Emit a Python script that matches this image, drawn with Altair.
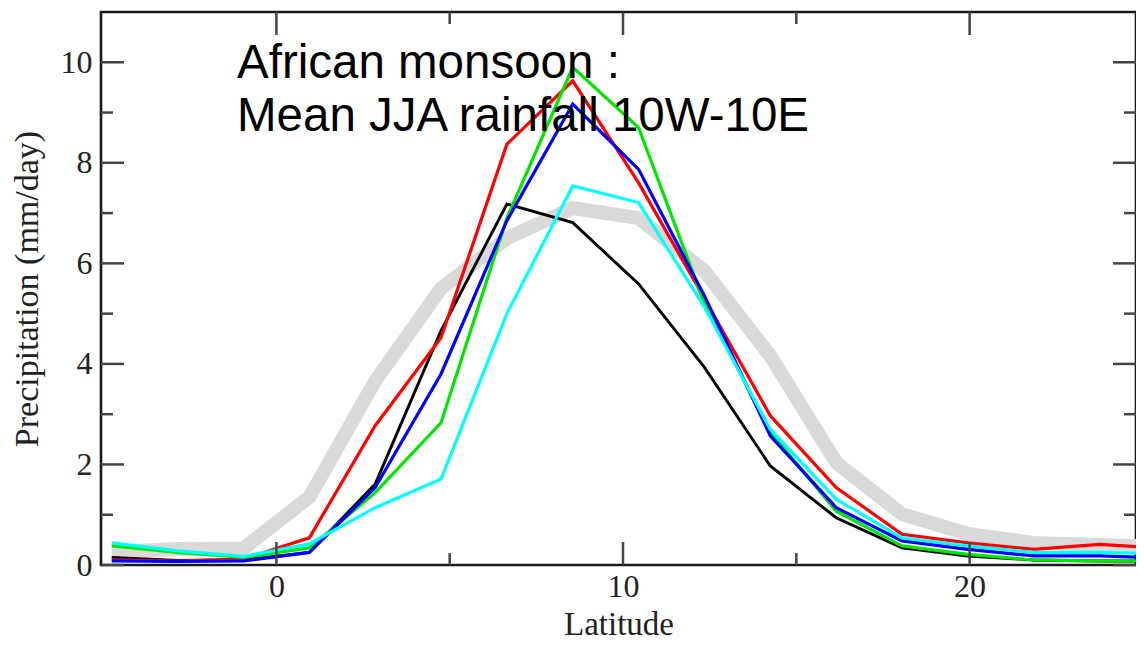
import altair as alt
import pandas as pd

# Latitudes of the model grid points (deg N)
lat = [-4.75, -2.85, -0.95, 0.95, 2.85, 4.75, 6.65, 8.55, 10.45, 12.35,
       14.25, 16.15, 18.05, 19.95, 21.85, 23.75, 25.65]

# Mean JJA rainfall (mm/day), one list per curve
obs_gray = [0.26, 0.32, 0.33, 1.35, 3.66, 5.5, 6.5, 7.1, 6.9, 5.85,
            4.16, 2.04, 1.01, 0.62, 0.44, 0.4, 0.36]
black = [0.15, 0.09, 0.1, 0.25, 1.61, 4.66, 7.18, 6.81, 5.59, 3.93,
         1.97, 0.94, 0.34, 0.18, 0.1, 0.08, 0.08]
red = [0.1, 0.08, 0.12, 0.54, 2.77, 4.52, 8.37, 9.63, 7.6, 5.3,
       2.97, 1.54, 0.61, 0.44, 0.31, 0.41, 0.33]
green = [0.38, 0.25, 0.15, 0.34, 1.44, 2.83, 6.9, 9.9, 8.7, 5.2,
         2.65, 1.07, 0.38, 0.21, 0.1, 0.08, 0.08]
blue = [0.08, 0.07, 0.08, 0.25, 1.54, 3.8, 6.85, 9.17, 7.87, 5.35,
        2.57, 1.14, 0.48, 0.31, 0.18, 0.18, 0.14]
cyan = [0.44, 0.28, 0.17, 0.42, 1.14, 1.71, 5.0, 7.54, 7.21, 5.13,
        2.7, 1.31, 0.54, 0.38, 0.25, 0.25, 0.22]

series_names = ["obs", "black", "red", "green", "blue", "cyan"]
series_vals = [obs_gray, black, red, green, blue, cyan]
series_colors = ["#d9d9d9", "#000000", "#ff0000", "#00e600", "#0000ff", "#00ffff"]
series_widths = [14, 2.9, 3.2, 3.2, 3.2, 3.2]

x_labels = [0, 10, 20]
x_minor = [5, 15]
y_labels = [0, 2, 4, 6, 8, 10]
y_minor = [1, 3, 5, 7, 9]

title_lines = ["African monsoon :", "Mean JJA rainfall 10W-10E"]

W, H = 1035, 553
XDOM = [-5.06, 24.8]
YDOM = [0, 11]

xscale = alt.Scale(domain=XDOM, nice=False, zero=False)
yscale = alt.Scale(domain=YDOM, nice=False, zero=False)

SERIF = "Liberation Serif"
XT = "Latitude"
YT = "Precipitation (mm/day)"

xaxis = alt.Axis(values=x_labels, ticks=False, domain=False, grid=False,
                 labelFont=SERIF, labelFontSize=32, labelColor="#222",
                 labelPadding=6, titleFont=SERIF, titleFontSize=33,
                 titleFontWeight="normal", titleColor="#222", titlePadding=6)
yaxis = alt.Axis(values=y_labels, ticks=False, domain=False, grid=False,
                 labelFont=SERIF, labelFontSize=32, labelColor="#222",
                 labelPadding=9, titleFont=SERIF, titleFontSize=34,
                 titleFontWeight="normal", titleColor="#222", titlePadding=16)

layers = []
for name, vals, col, w in zip(series_names, series_vals, series_colors, series_widths):
    df = pd.DataFrame({"lat": lat, "pr": vals})
    layers.append(
        alt.Chart(df).mark_line(color=col, strokeWidth=w, clip=True)
        .encode(x=alt.X("lat:Q", scale=xscale, title=XT, axis=xaxis),
                y=alt.Y("pr:Q", scale=yscale, title=YT, axis=yaxis))
    )

TICK_COLOR = "#444444"
TW = 2.5
MAJ, MIN = 23, 12

def yticks(values, length):
    df = pd.DataFrame({"pr": values})
    out = []
    for x0, x1 in [(0, length), (W - length, W)]:
        out.append(alt.Chart(df).mark_rule(color=TICK_COLOR, strokeWidth=TW).encode(
            y=alt.Y("pr:Q", scale=yscale, title=YT, axis=yaxis),
            x=alt.value(x0), x2=alt.value(x1)))
    return out

def xticks(values, length):
    df = pd.DataFrame({"lat": values})
    out = []
    for y0, y1 in [(H - length, H), (0, length)]:
        out.append(alt.Chart(df).mark_rule(color=TICK_COLOR, strokeWidth=TW).encode(
            x=alt.X("lat:Q", scale=xscale, title=XT, axis=xaxis),
            y=alt.value(y0), y2=alt.value(y1)))
    return out

tick_layers = yticks(y_labels, MAJ) + yticks(y_minor, MIN) + xticks(x_labels, MAJ) + xticks(x_minor, MIN)

text_df = pd.DataFrame({"t": [title_lines]})
text_layer = alt.Chart(text_df).mark_text(
    align="left", baseline="alphabetic", font="Liberation Sans", fontSize=47.5,
    lineHeight=53, color="#000000"
).encode(text="t:N", x=alt.value(136), y=alt.value(66))

chart = alt.layer(*layers, *tick_layers, text_layer).properties(
    width=W, height=H,
    background="white",
    autosize=alt.AutoSizeParams(type="none"),
    padding={"left": 93, "top": 4, "right": 0, "bottom": 78},
).configure_view(stroke="#1a1a1a", strokeWidth=2.6)

chart.save("out.html", embed_options={"renderer": "svg", "actions": False})
